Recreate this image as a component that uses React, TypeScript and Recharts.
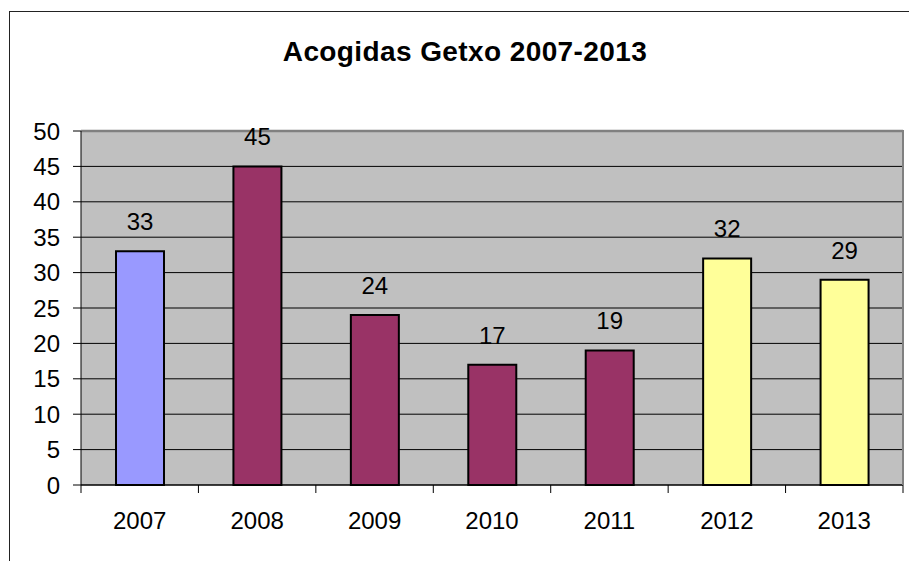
import { BarChart, Bar, XAxis, YAxis, CartesianGrid, Cell, LabelList, ReferenceLine } from "recharts";

const YEARS = ["2007", "2008", "2009", "2010", "2011", "2012", "2013"];
const ACOGIDAS = [33, 45, 24, 17, 19, 32, 29];
const Y_TICKS = [0, 5, 10, 15, 20, 25, 30, 35, 40, 45, 50];

// colores por año (estilo, no datos)
const COLORES = ["#9999FF", "#993366", "#993366", "#993366", "#993366", "#FFFF99", "#FFFF99"];

const W = 909;
const H = 561;
const X_H = 30;
const BOTTOM = 76;
const MARGIN = { top: 131, right: 6, bottom: BOTTOM - X_H, left: 0 };
const Y_W = 81;
const PLOT_W = W - Y_W - MARGIN.right;
const PLOT_H = H - MARGIN.top - BOTTOM;
const BAND = PLOT_W / YEARS.length;
const FONT = "Arial, 'Liberation Sans', sans-serif";

const datos = YEARS.map((anio, i) => ({ anio, valor: ACOGIDAS[i] }));

function TickAnio(props: any) {
  const { x, y, payload, index } = props;
  const base = y - 2; // tickSize 0 + tickMargin 2
  const half = BAND / 2;
  return (
    <g>
      <line x1={x - half} x2={x - half} y1={base} y2={base + 8} stroke="#000" strokeWidth={1} />
      {index === YEARS.length - 1 && (
        <line x1={x + half} x2={x + half} y1={base} y2={base + 8} stroke="#000" strokeWidth={1} />
      )}
      <text x={x} y={base + 44} textAnchor="middle" fontSize={24} fontFamily={FONT} fill="#000">
        {payload.value}
      </text>
    </g>
  );
}

export default function App() {
  return (
    <div style={{ position: "absolute", left: 0, top: 0, width: W, height: H, background: "#fff", overflow: "hidden" }}>
      <div
        style={{
          position: "absolute", left: 9, top: 11, width: W, height: H,
          borderLeft: "1.5px solid #222", borderTop: "1.5px solid #222",
        }}
      />
      <div
        style={{
          position: "absolute", left: 0, top: 35, width: 930, textAlign: "center",
          fontFamily: FONT, fontWeight: "bold", fontSize: 28, lineHeight: "34px",
          letterSpacing: "0.4px", color: "#000",
        }}
      >
        Acogidas Getxo 2007-2013
      </div>
      <div style={{ position: "absolute", left: 0, top: 0 }}>
        <BarChart width={W} height={H} data={datos} margin={MARGIN}>
          <CartesianGrid vertical={false} stroke="#000" strokeWidth={1} fill="#C0C0C0" fillOpacity={1} />
          <XAxis
            dataKey="anio"
            height={X_H}
            tickLine={false}
            tickSize={0}
            tickMargin={2}
            axisLine={{ stroke: "#000", strokeWidth: 1 }}
            tick={<TickAnio />}
            interval={0}
          />
          <YAxis
            width={Y_W}
            domain={[0, 50]}
            ticks={Y_TICKS}
            interval={0}
            tickSize={8}
            tickMargin={13}
            tickLine={{ stroke: "#000" }}
            axisLine={{ stroke: "#000", strokeWidth: 1 }}
            tick={{ fontSize: 24, fontFamily: FONT, fill: "#000" }}
          />
          <ReferenceLine y={50} stroke="#808080" strokeWidth={2.5} />
          <Bar dataKey="valor" barSize={48} stroke="#000" strokeWidth={2} isAnimationActive={false}>
            {datos.map((d, i) => (
              <Cell key={d.anio} fill={COLORES[i]} />
            ))}
            <LabelList
              dataKey="valor"
              position="top"
              offset={21}
              style={{ fontSize: 24, fontFamily: FONT, fill: "#000" }}
            />
          </Bar>
        </BarChart>
      </div>
      {/* borde derecho del área de trazado */}
      <div
        style={{
          position: "absolute", left: W - MARGIN.right - 1.5, top: MARGIN.top - 1,
          width: 2.5, height: PLOT_H + 1, background: "#808080",
        }}
      />
    </div>
  );
}
